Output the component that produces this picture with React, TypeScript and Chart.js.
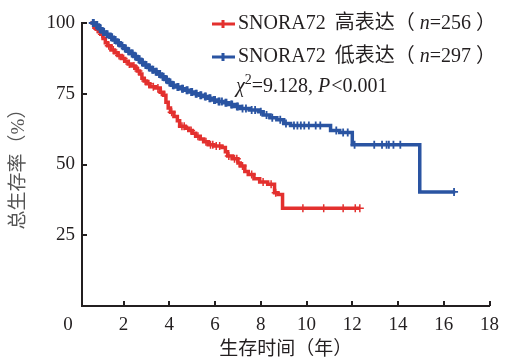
import React, { useEffect, useRef } from "react";
import { Chart, registerables } from "chart.js";

Chart.register(...registerables);

// ---- data ----
const xTicks = [2, 4, 6, 8, 10, 12, 14, 16, 18];
const yTicks = [25, 50, 75, 100];

const seriesLabels = ["SNORA72 高表达", "SNORA72 低表达"];
const seriesN = [256, 297];
const chiSquare = "9.128";
const pText = "<0.001";

// high-expression group (red): event times and survival after each step
const highTimes = [0.55, 0.7, 0.8, 0.9, 1.0, 1.1, 1.2, 1.3, 1.45, 1.6, 1.75, 1.9, 2.05, 2.2, 2.35, 2.5, 2.6, 2.7, 2.8, 2.9, 3.0, 3.15, 3.4, 3.6, 3.75, 3.85, 3.95, 4.05, 4.2, 4.35, 4.45, 4.7, 4.85, 5.0, 5.15, 5.35, 5.5, 5.7, 5.95, 6.3, 6.45, 6.55, 6.75, 7.0, 7.1, 7.3, 7.45, 7.7, 7.95, 8.3, 8.6, 8.75, 8.95, 12.33];
const highSurv = [100, 98.5, 97.8, 97, 96, 94.5, 93, 92, 90.5, 89.5, 88.5, 87.5, 86.5, 85.5, 84.8, 84, 83, 82, 80.5, 79.5, 78.5, 77.5, 77, 75.5, 74.5, 72, 70, 68.5, 67, 65.5, 63.5, 62.8, 62, 61, 60, 59, 58, 57, 56.5, 56, 54.5, 53, 52, 50.5, 49.5, 47.5, 46.5, 45, 43.8, 43, 40, 39.4, 34.5, 34.5];
const highCensor = [0.85, 1.05, 1.35, 1.55, 1.8, 2.0, 2.25, 2.45, 2.65, 2.95, 3.1, 3.3, 3.5, 3.65, 4.1, 4.55, 4.65, 4.95, 5.25, 5.6, 5.8, 5.9, 6.05, 6.2, 6.6, 6.85, 6.95, 7.2, 7.6, 8.1, 8.45, 8.65, 9.84, 10.75, 11.6, 12.13, 12.33];

// low-expression group (blue)
const lowTimes = [0.55, 0.75, 0.9, 1.05, 1.2, 1.4, 1.55, 1.7, 1.85, 2.0, 2.15, 2.3, 2.45, 2.6, 2.75, 2.9, 3.05, 3.2, 3.35, 3.5, 3.65, 3.8, 3.95, 4.1, 4.3, 4.5, 4.7, 4.9, 5.1, 5.3, 5.5, 5.7, 5.9, 6.1, 6.35, 6.6, 6.85, 7.1, 7.5, 7.9, 8.1, 8.4, 8.7, 9.0, 9.3, 11.05, 11.45, 12.0, 14.95, 16.5];
const lowSurv = [100, 99.3, 98, 96.8, 96, 95, 94, 93, 92, 91, 90, 89.2, 88.2, 87.2, 86, 85.2, 84.3, 83.5, 82.8, 82, 81, 80, 79, 78, 77.4, 76.8, 76.2, 75.6, 75, 74.5, 74, 73.4, 72.8, 72.3, 71.8, 71.2, 70.5, 69.8, 69.3, 68.6, 67.5, 66.5, 65.8, 64.5, 63.8, 62.0, 61.3, 57, 40.3, 40.3];
const lowCensor = [0.65, 0.7, 0.8, 0.85, 0.95, 1.0, 1.1, 1.15, 1.25, 1.3, 1.45, 1.5, 1.6, 1.65, 1.75, 1.8, 1.95, 2.05, 2.1, 2.2, 2.25, 2.35, 2.4, 2.5, 2.55, 2.65, 2.7, 2.8, 2.85, 2.95, 3.0, 3.1, 3.15, 3.25, 3.3, 3.4, 3.45, 3.55, 3.6, 3.7, 3.75, 3.85, 3.9, 4.0, 4.05, 4.15, 4.2, 4.35, 4.4, 4.55, 4.6, 4.75, 4.8, 4.95, 5.0, 5.15, 5.2, 5.35, 5.4, 5.55, 5.6, 5.75, 5.8, 5.95, 6.0, 6.15, 6.2, 6.3, 6.45, 6.5, 6.7, 6.75, 6.95, 7.0, 7.2, 7.35, 7.6, 7.75, 8.0, 8.25, 8.5, 8.85, 9.1, 9.45, 9.6, 9.75, 9.9, 10.1, 10.4, 10.6, 11.3, 11.6, 11.8, 12.1, 12.96, 13.3, 13.5, 13.6, 13.8, 14.1, 16.45];

// ---- styles ----
const RED = "#e3302e";
const BLUE = "#2a54a2";
const INK = "#231f20";
const SERIF = "'Liberation Serif', 'Times New Roman', 'Noto Sans CJK SC', serif";

function stepAt(times: number[], surv: number[], t: number) {
  let v = surv[0];
  for (let i = 0; i < times.length; i++) {
    if (times[i] <= t) v = surv[i];
  }
  return v;
}

const toPoints = (times: number[], surv: number[]) => times.map((t, i) => ({ x: t, y: surv[i] }));
const toCensor = (c: number[], times: number[], surv: number[]) => c.map((t) => ({ x: t, y: stepAt(times, surv, t) }));

const overlay = {
  id: "overlay",
  afterDraw(chart: any) {
    const ctx = chart.ctx as CanvasRenderingContext2D;
    const xs = chart.scales.x;
    const ys = chart.scales.y;
    const area = chart.chartArea;
    ctx.save();
    // inward ticks
    ctx.strokeStyle = INK;
    ctx.lineWidth = 2;
    ctx.beginPath();
    xTicks.forEach((v) => {
      const px = Math.round(xs.getPixelForValue(v));
      ctx.moveTo(px, area.bottom);
      ctx.lineTo(px, area.bottom - 5);
    });
    yTicks.forEach((v) => {
      const py = Math.round(ys.getPixelForValue(v));
      ctx.moveTo(area.left, py);
      ctx.lineTo(area.left + 5, py);
    });
    ctx.stroke();

    // "0" origin label
    ctx.fillStyle = INK;
    ctx.font = `19px ${SERIF}`;
    ctx.textAlign = "center";
    ctx.textBaseline = "middle";
    ctx.fillText("0", xs.getPixelForValue(0) - 10, area.bottom + 19);

    // legend
    const rows = [
      { color: RED, y: 24 },
      { color: BLUE, y: 57 },
    ];
    ctx.textAlign = "left";
    rows.forEach((r, i) => {
      ctx.strokeStyle = r.color;
      ctx.lineWidth = 3;
      ctx.beginPath();
      ctx.moveTo(212, r.y);
      ctx.lineTo(235, r.y);
      ctx.moveTo(223, r.y - 4);
      ctx.lineTo(223, r.y + 4);
      ctx.stroke();
      let x = 238;
      ctx.fillStyle = INK;
      ctx.font = `20px ${SERIF}`;
      const parts = seriesLabels[i].split(" ");
      ctx.fillText(parts[0], x, r.y);
      x += ctx.measureText(parts[0]).width + 9;
      const a = parts.slice(1).join(" ") + "（ ";
      ctx.fillText(a, x, r.y);
      x += ctx.measureText(a).width;
      ctx.font = `italic 20px ${SERIF}`;
      ctx.fillText("n", x, r.y);
      x += ctx.measureText("n").width;
      ctx.font = `20px ${SERIF}`;
      ctx.fillText("=" + seriesN[i] + " ）", x, r.y);
    });

    // statistics line
    let x = 236;
    const y = 87;
    ctx.font = `italic 20px ${SERIF}`;
    ctx.fillText("χ", x, y);
    x += ctx.measureText("χ").width;
    ctx.font = `14px ${SERIF}`;
    ctx.fillText("2", x, y - 7);
    x += ctx.measureText("2").width;
    ctx.font = `20px ${SERIF}`;
    const s1 = "=" + chiSquare + ", ";
    ctx.fillText(s1, x, y);
    x += ctx.measureText(s1).width;
    ctx.font = `italic 20px ${SERIF}`;
    ctx.fillText("P", x, y);
    x += ctx.measureText("P").width + 1;
    ctx.font = `20px ${SERIF}`;
    ctx.fillText(pText, x, y);
    ctx.restore();
  },
};

export default function App() {
  const ref = useRef<HTMLCanvasElement>(null);
  useEffect(() => {
    document.body.style.margin = "0";
    const chart = new Chart(ref.current as HTMLCanvasElement, {
      type: "line",
      data: {
        datasets: [
          {
            label: seriesLabels[0],
            data: toPoints(highTimes, highSurv),
            borderColor: RED,
            borderWidth: 3.5,
            stepped: true,
            pointRadius: 0,
            fill: false,
            clip: false as any,
            order: 2,
          },
          {
            label: seriesLabels[1],
            data: toPoints(lowTimes, lowSurv),
            borderColor: BLUE,
            borderWidth: 3.5,
            stepped: true,
            pointRadius: 0,
            fill: false,
            clip: false as any,
            order: 1,
          },
          {
            label: "censor-high",
            data: toCensor(highCensor, highTimes, highSurv),
            showLine: false,
            pointStyle: "cross",
            pointRadius: 4,
            pointBorderWidth: 1.5,
            pointBorderColor: RED,
            borderColor: RED,
            clip: false as any,
            order: 2,
          },
          {
            label: "censor-low",
            data: toCensor(lowCensor, lowTimes, lowSurv),
            showLine: false,
            pointStyle: "cross",
            pointRadius: 4,
            pointBorderWidth: 1.8,
            pointBorderColor: BLUE,
            borderColor: BLUE,
            clip: false as any,
            order: 1,
          },
        ],
      },
      options: {
        animation: false,
        responsive: false,
        maintainAspectRatio: false,
        events: [],
        layout: { padding: { top: 23, right: 13, left: 0, bottom: 0 } },
        plugins: { legend: { display: false }, tooltip: { enabled: false } },
        scales: {
          x: {
            type: "linear",
            min: 0.18,
            max: 18,
            grid: { display: false, drawTicks: false },
            border: { display: true, color: INK, width: 2 },
            ticks: { color: INK, font: { family: SERIF, size: 19 }, padding: 8, maxRotation: 0 },
            afterBuildTicks: (s: any) => {
              s.ticks = xTicks.map((v) => ({ value: v }));
            },
            afterFit: (s: any) => {
              s.height = 52;
            },
            title: {
              display: true,
              text: "生存时间（年）",
              color: INK,
              font: { family: SERIF, size: 19, lineHeight: 0.8 },
              padding: { top: 0, bottom: 0 },
            },
          },
          y: {
            type: "linear",
            min: 0,
            max: 100,
            grid: { display: false, drawTicks: false },
            border: { display: true, color: INK, width: 2 },
            ticks: { color: INK, font: { family: SERIF, size: 19 }, padding: 7 },
            afterBuildTicks: (s: any) => {
              s.ticks = yTicks.map((v) => ({ value: v }));
            },
            afterFit: (s: any) => {
              s.width = 82;
            },
            title: {
              display: true,
              text: "总生存率（%）",
              color: "#555",
              font: { family: SERIF, size: 19, lineHeight: 1.2 },
              padding: { top: 8, bottom: 0 },
            },
          },
        },
      },
      plugins: [overlay],
    });
    return () => chart.destroy();
  }, []);
  return (
    <div style={{ position: "fixed", left: 0, top: 0, width: 507, height: 358 }}>
      <canvas ref={ref} width={507} height={358} style={{ width: 507, height: 358 }} />
    </div>
  );
}
